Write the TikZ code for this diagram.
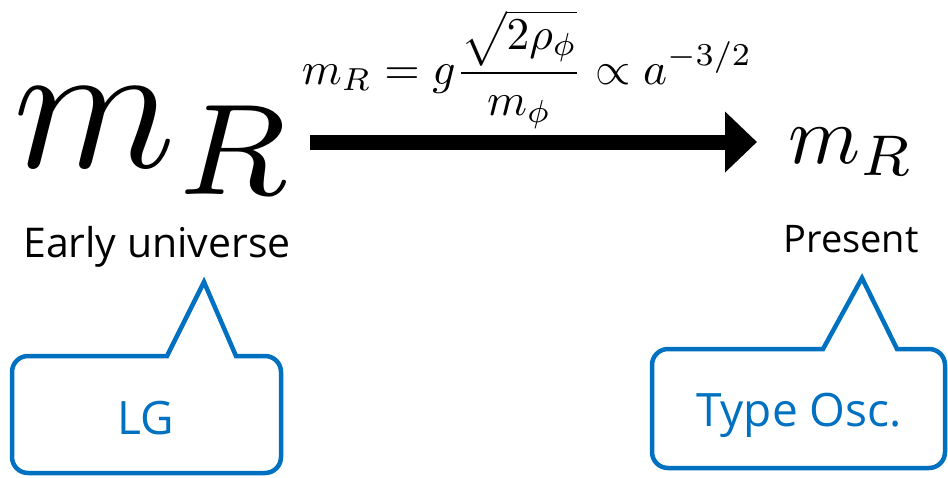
\documentclass[tikz,border=0pt]{standalone}
\usepackage{fontspec}
\setmainfont{Open Sans}
\usetikzlibrary{arrows.meta}
\definecolor{callblue}{HTML}{0070C0}
\tikzset{
  callout/.style={draw=callblue, line width=4.5pt, line join=miter},
  calltext/.style={text=callblue, font=\fontsize{46}{50}\selectfont, anchor=base, inner sep=0pt},
  label/.style={font=\fontsize{41}{46}\selectfont, anchor=base, inner sep=0pt},
  mathnode/.style={inner sep=0pt, anchor=base west},
}
\begin{document}
\begin{tikzpicture}[x=1pt,y=-1pt]
\useasboundingbox (0,0) rectangle (948,477);
% masses
\node[mathnode, scale=18.5] (mbig) at (10,167) {$m_R$};
\node[mathnode, scale=8.2] (msmall) at (787,163) {$m_R$};
% labels
\node[label] (early) at (157,257) {Early universe};
\node[label, font=\fontsize{38}{42}\selectfont] (present) at (851,252) {Present};
% formula
\node[mathnode, scale=4.55] (formula) at (301,84) {$\displaystyle m_R = g\frac{\sqrt{2\rho_\phi}}{m_\phi}\propto a^{-3/2}$};
% arrow
\coordinate (arrS) at (310,142);
\coordinate (arrE) at (757,142);
\draw[line width=15pt, -{Triangle[length=32pt 0 0, width=59pt 0 0]}] (arrS) -- (arrE);
% callouts
\draw[callout] (204,282) -- (236,356) [rounded corners=16pt] -- (281,356) -- (281,473) -- (12,473) -- (12,356) [sharp corners] -- (167,356) -- cycle;
\node[calltext] (lg) at (146,434) {LG};
\draw[callout] (862,278) -- (897,349) [rounded corners=16pt] -- (945,349) -- (945,468) -- (652,468) -- (652,349) [sharp corners] -- (823,349) -- cycle;
\node[calltext] (osc) at (799,426) {Type Osc.};
\end{tikzpicture}
\end{document}
